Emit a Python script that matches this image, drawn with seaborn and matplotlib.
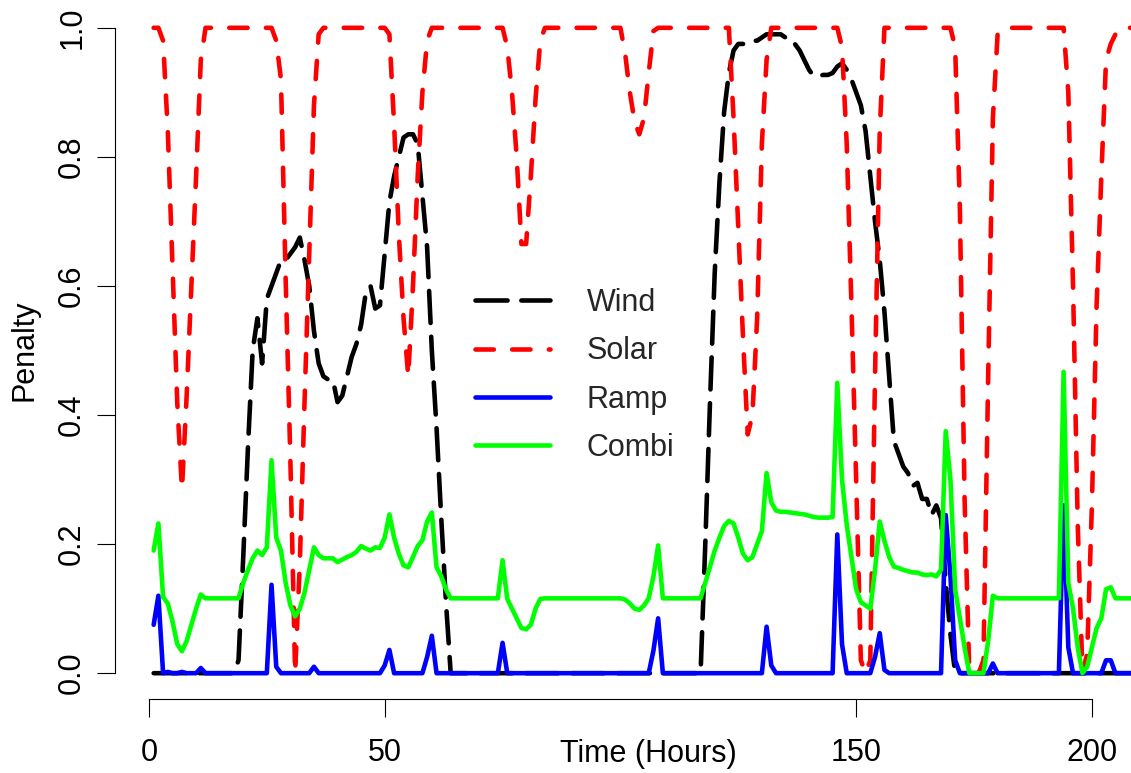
import matplotlib
matplotlib.use("Agg")
import matplotlib.pyplot as plt
import pandas as pd
import seaborn as sns

# Hourly penalty values
hours = list(range(1, 210))

wind = [
    0, 0, 0, 0, 0, 0, 0, 0, 0, 0,
    0, 0, 0, 0, 0, 0, 0, 0, 0.02, 0.18,
    0.35, 0.50, 0.55, 0.48, 0.58, 0.60, 0.62, 0.64, 0.64, 0.65,
    0.66, 0.675, 0.64, 0.60, 0.53, 0.48, 0.46, 0.455, 0.455, 0.42,
    0.43, 0.46, 0.49, 0.51, 0.54, 0.59, 0.60, 0.565, 0.57, 0.65,
    0.73, 0.77, 0.80, 0.83, 0.835, 0.835, 0.82, 0.74, 0.66, 0.50,
    0.38, 0.24, 0.11, 0, 0, 0, 0, 0, 0, 0,
    0, 0, 0, 0, 0, 0, 0, 0, 0, 0,
    0, 0, 0, 0, 0, 0, 0, 0, 0, 0,
    0, 0, 0, 0, 0, 0, 0, 0, 0, 0,
    0, 0, 0, 0, 0, 0, 0, 0, 0, 0,
    0, 0, 0, 0, 0, 0, 0, 0.20, 0.42, 0.62,
    0.76, 0.87, 0.93, 0.965, 0.975, 0.975, 0.975, 0.98, 0.98, 0.985,
    0.99, 0.99, 0.99, 0.99, 0.985, 0.985, 0.975, 0.965, 0.95, 0.935,
    0.925, 0.925, 0.927, 0.927, 0.93, 0.94, 0.945, 0.935, 0.92, 0.90,
    0.88, 0.84, 0.77, 0.70, 0.64, 0.56, 0.46, 0.36, 0.34, 0.32,
    0.31, 0.29, 0.295, 0.27, 0.27, 0.245, 0.26, 0.24, 0.14, 0.06,
    0, 0, 0, 0, 0, 0, 0, 0, 0, 0,
    0, 0, 0, 0, 0, 0, 0, 0, 0, 0,
    0, 0, 0, 0, 0, 0, 0, 0, 0, 0,
    0, 0, 0, 0, 0, 0, 0, 0, 0,
]

solar = [
    1, 1, 0.98, 0.84, 0.63, 0.42, 0.285, 0.43, 0.60, 0.77,
    0.95, 1, 1, 1, 1, 1, 1, 1, 1, 1,
    1, 1, 1, 1, 1, 1, 0.98, 0.92, 0.61, 0.33,
    0.0, 0.17, 0.42, 0.65, 0.88, 0.99, 1, 1, 1, 1,
    1, 1, 1, 1, 1, 1, 1, 1, 1, 1,
    0.99, 0.85, 0.68, 0.55, 0.46, 0.60, 0.77, 0.90, 0.98, 1,
    1, 1, 1, 1, 1, 1, 1, 1, 1, 1,
    1, 1, 1, 1, 1, 0.97, 0.90, 0.80, 0.665, 0.665,
    0.77, 0.89, 0.98, 1, 1, 1, 1, 1, 1, 1,
    1, 1, 1, 1, 1, 1, 1, 1, 1, 1,
    0.96, 0.90, 0.855, 0.835, 0.86, 0.93, 0.995, 1, 1, 1,
    1, 1, 1, 1, 1, 1, 1, 1, 1, 1,
    1, 1, 1, 0.86, 0.69, 0.52, 0.37, 0.40, 0.55, 0.82,
    0.95, 1, 1, 1, 1, 1, 1, 1, 1, 1,
    1, 1, 1, 1, 1, 1, 0.97, 0.82, 0.57, 0.30,
    0.02, 0.0, 0.02, 0.46, 0.84, 1, 1, 1, 1, 1,
    1, 1, 1, 1, 1, 1, 1, 1, 1, 1,
    0.97, 0.72, 0.27, 0, 0, 0, 0.02, 0.46, 0.86, 0.99,
    1, 1, 1, 1, 1, 1, 1, 1, 1, 1,
    1, 1, 1, 1, 0.90, 0.60, 0.23, 0.0, 0.03, 0.26,
    0.57, 0.77, 0.95, 0.975, 0.99, 1, 1, 1, 1,
]

ramp = [
    0.075, 0.12, 0, 0.002, 0, 0, 0.002, 0, 0, 0,
    0.008, 0, 0, 0, 0, 0, 0, 0, 0, 0,
    0, 0, 0, 0, 0, 0.137, 0.01, 0, 0, 0,
    0, 0, 0, 0, 0.01, 0, 0, 0, 0, 0,
    0, 0, 0, 0, 0, 0, 0, 0, 0, 0.012,
    0.036, 0, 0, 0, 0, 0, 0, 0, 0.025, 0.058,
    0, 0, 0, 0, 0, 0, 0, 0, 0, 0,
    0, 0, 0, 0, 0.047, 0, 0, 0, 0, 0,
    0, 0, 0, 0, 0, 0, 0, 0, 0, 0,
    0, 0, 0, 0, 0, 0, 0, 0, 0, 0,
    0, 0, 0, 0, 0, 0, 0.035, 0.085, 0, 0,
    0, 0, 0, 0, 0, 0, 0, 0, 0, 0,
    0, 0, 0, 0, 0, 0, 0, 0, 0, 0,
    0.072, 0.012, 0, 0, 0, 0, 0, 0, 0, 0,
    0, 0, 0, 0, 0, 0.215, 0.045, 0, 0, 0,
    0, 0, 0, 0.025, 0.062, 0.005, 0, 0, 0, 0,
    0, 0, 0, 0, 0, 0, 0, 0, 0.245, 0.15,
    0.02, 0, 0, 0, 0, 0, 0, 0, 0.015, 0,
    0, 0, 0, 0, 0, 0, 0, 0, 0, 0,
    0, 0, 0, 0.26, 0.04, 0, 0, 0, 0, 0,
    0, 0, 0.02, 0.02, 0, 0, 0, 0, 0,
]

combi = [
    0.19, 0.232, 0.118, 0.108, 0.08, 0.045, 0.034, 0.05, 0.075, 0.10,
    0.122, 0.116, 0.116, 0.116, 0.116, 0.116, 0.116, 0.116, 0.116, 0.14,
    0.16, 0.178, 0.19, 0.183, 0.195, 0.33, 0.21, 0.19, 0.14, 0.105,
    0.088, 0.10, 0.125, 0.16, 0.195, 0.183, 0.178, 0.178, 0.178, 0.172,
    0.176, 0.18, 0.183, 0.188, 0.197, 0.193, 0.19, 0.195, 0.194, 0.21,
    0.246, 0.21, 0.185, 0.167, 0.164, 0.18, 0.197, 0.206, 0.235, 0.249,
    0.164, 0.15, 0.13, 0.116, 0.116, 0.116, 0.116, 0.116, 0.116, 0.116,
    0.116, 0.116, 0.116, 0.116, 0.175, 0.115, 0.10, 0.085, 0.07, 0.068,
    0.075, 0.10, 0.115, 0.116, 0.116, 0.116, 0.116, 0.116, 0.116, 0.116,
    0.116, 0.116, 0.116, 0.116, 0.116, 0.116, 0.116, 0.116, 0.116, 0.116,
    0.114, 0.108, 0.10, 0.098, 0.105, 0.116, 0.15, 0.198, 0.116, 0.116,
    0.116, 0.116, 0.116, 0.116, 0.116, 0.116, 0.116, 0.14, 0.165, 0.19,
    0.21, 0.228, 0.236, 0.232, 0.21, 0.185, 0.175, 0.18, 0.20, 0.22,
    0.31, 0.265, 0.252, 0.25, 0.25, 0.249, 0.248, 0.247, 0.246, 0.244,
    0.242, 0.241, 0.241, 0.241, 0.242, 0.45, 0.30, 0.23, 0.18, 0.13,
    0.11, 0.105, 0.10, 0.16, 0.235, 0.205, 0.18, 0.165, 0.163, 0.16,
    0.158, 0.156, 0.156, 0.153, 0.152, 0.153, 0.15, 0.16, 0.375, 0.30,
    0.13, 0.085, 0.04, 0, 0, 0, 0, 0.05, 0.12, 0.116,
    0.116, 0.116, 0.116, 0.116, 0.116, 0.116, 0.116, 0.116, 0.116, 0.116,
    0.116, 0.116, 0.116, 0.467, 0.14, 0.10, 0.04, 0.0, 0.01, 0.04,
    0.07, 0.085, 0.13, 0.133, 0.116, 0.116, 0.116, 0.116, 0.116,
]

x_ticks = [0, 50, 150, 200]
y_ticks = [0.0, 0.2, 0.4, 0.6, 0.8, 1.0]
y_tick_labels = ["0.0", "0.2", "0.4", "0.6", "0.8", "1.0"]

df = pd.DataFrame({"Hour": hours, "Wind": wind, "Solar": solar,
                   "Ramp": ramp, "Combi": combi})

sns.set_theme(style="ticks")
plt.rcParams["font.family"] = ["Liberation Sans", "DejaVu Sans"]

fig = plt.figure(figsize=(11.31, 7.73), dpi=100)
fig.patch.set_facecolor("white")
# axes spans past the right edge, like the cropped R plot region
ax = fig.add_axes([115 / 1131, 74 / 773, 1066 / 1131, 697 / 773])

lw = 3.3
sns.lineplot(data=df, x="Hour", y="Wind", ax=ax, color="black", lw=lw,
             linestyle=(0, (7, 3)), dash_capstyle="round",
             estimator=None, errorbar=None, label="Wind")
sns.lineplot(data=df, x="Hour", y="Solar", ax=ax, color="#ff0000", lw=lw,
             linestyle=(0, (4, 4)), dash_capstyle="round",
             estimator=None, errorbar=None, label="Solar")
sns.lineplot(data=df, x="Hour", y="Ramp", ax=ax, color="#0000ff", lw=lw,
             solid_capstyle="round", estimator=None, errorbar=None, label="Ramp")
sns.lineplot(data=df, x="Hour", y="Combi", ax=ax, color="#00ff00", lw=lw,
             solid_capstyle="round", estimator=None, errorbar=None, label="Combi")

ax.set_xlim(-7.2, 218.9)
ax.set_ylim(-0.04, 1.04)

sns.despine(ax=ax)
for side in ["left", "bottom"]:
    ax.spines[side].set_color("black")
    ax.spines[side].set_linewidth(0.8)
ax.spines["left"].set_bounds(0, 1)
ax.spines["bottom"].set_bounds(0, 200)

ax.set_xticks(x_ticks)
ax.set_xticklabels([str(v) for v in x_ticks])
ax.set_yticks(y_ticks)
ax.set_yticklabels(y_tick_labels)
ax.tick_params(axis="both", direction="out", length=13, width=0.8,
               color="black", labelsize=22, labelcolor="black")
ax.tick_params(axis="x", pad=15)
ax.tick_params(axis="y", pad=7)
plt.setp(ax.get_yticklabels(), rotation=90, va="center")

ax.set_xlabel("Time (Hours)", fontsize=22, color="black")
ax.xaxis.set_label_coords(0.5, -0.057)
ax.set_ylabel("Penalty", fontsize=22, color="black")
ax.yaxis.set_label_coords(-0.071, 0.5)

ax.legend(loc="upper left", bbox_to_anchor=(475 / 1131, 1 - 288 / 773),
          bbox_transform=fig.transFigure, frameon=False, fontsize=22,
          handlelength=2.45, handletextpad=1.2, labelspacing=0.6,
          borderpad=0, borderaxespad=0)

fig.savefig("out.png", dpi=100)
plt.close(fig)
